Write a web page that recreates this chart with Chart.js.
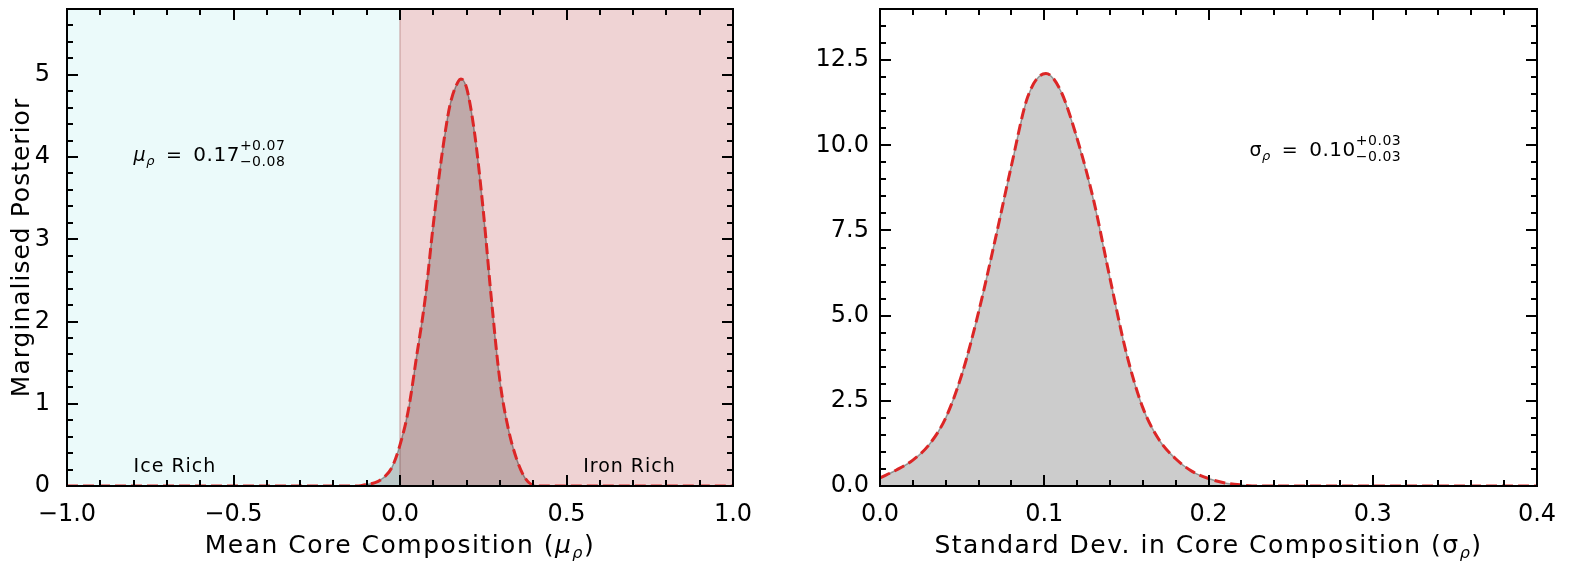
<!DOCTYPE html>
<html>
<head>
<meta charset="utf-8">
<script src="https://cdn.jsdelivr.net/npm/chart.js@4.4.0/dist/chart.umd.min.js"></script>
<style>
  html, body { margin: 0; padding: 0; background: #fff; overflow: hidden; width: 1578px; height: 564px; }
  #wrap { position: relative; width: 1578px; height: 564px; overflow: hidden; }
  .box { position: absolute; top: 0; height: 564px; }
  #boxMu { left: 0; width: 780px; }
  #boxSig { left: 780px; width: 798px; }
  canvas { display: block; }
</style>
</head>
<body>
<div id="wrap">
  <div class="box" id="boxMu"><canvas id="muChart"></canvas></div>
  <div class="box" id="boxSig"><canvas id="sigChart"></canvas></div>
</div>
<script>
// 左图：平均核心成分的边缘后验
const muX = [-1.0, -0.125, -0.1, -0.075, -0.05, -0.025, 0.0, 0.025, 0.05, 0.075, 0.1, 0.125, 0.15, 0.175, 0.183, 0.2, 0.225, 0.25, 0.275, 0.3, 0.325, 0.35, 0.375, 0.4, 0.425, 1.0];
const muY = [0, 0, 0.02, 0.04, 0.1, 0.22, 0.5, 0.92, 1.58, 2.26, 3.18, 4.0, 4.63, 4.92, 4.95, 4.84, 4.26, 3.35, 2.25, 1.28, 0.7, 0.33, 0.1, 0.01, 0, 0];

// 右图：核心成分标准差的边缘后验
const sigX = [0, 0.01, 0.02, 0.03, 0.04, 0.05, 0.06, 0.07, 0.08, 0.09, 0.101, 0.11, 0.12, 0.13, 0.14, 0.15, 0.16, 0.17, 0.18, 0.19, 0.2, 0.21, 0.22, 0.23, 0.4];
const sigY = [0.24, 0.47, 0.76, 1.22, 2.0, 3.3, 5.1, 7.2, 9.4, 11.43, 12.11, 11.6, 10.2, 8.4, 6.1, 3.9, 2.3, 1.35, 0.8, 0.43, 0.22, 0.09, 0.03, 0, 0];

// 刻度
const muTicksX = [-1, -0.5, 0, 0.5, 1];
const muTicksY = [0, 1, 2, 3, 4, 5];
const sigTicksX = [0, 0.1, 0.2, 0.3, 0.4];
const sigTicksY = [0, 2.5, 5, 7.5, 10, 12.5];

// 文字
const muTitle = 'Mean Core Composition (';
const sigTitle = 'Standard Dev. in Core Composition (';
const yTitle = 'Marginalised Posterior';
const muValue = ['0.17', '+0.07', '\u22120.08'];
const sigValue = ['0.10', '+0.03', '\u22120.03'];
const regionLabels = ['Ice Rich', 'Iron Rich'];

const FONT = '"DejaVu Sans", sans-serif';
const RED = '#dc2626';

function fontStr(size, italic) {
    return (italic ? 'italic ' : '') + size + 'px ' + FONT;
}

// 画带上下标的文字
function drawRich(ctx, parts, x, y, align) {
    let w = 0;
    parts.forEach(p => {
        if (p.sup !== undefined) {
            ctx.font = fontStr(p.size, false);
            p.w = Math.max(ctx.measureText(p.sup).width, ctx.measureText(p.sub).width);
        } else {
            ctx.font = fontStr(p.size, p.italic);
            p.w = ctx.measureText(p.t).width;
        }
        w += p.w + (p.gap || 0);
    });
    let cx = align === 'center' ? x - w / 2 : x;
    parts.forEach(p => {
        if (p.sup !== undefined) {
            ctx.font = fontStr(p.size, false);
            ctx.fillText(p.sup, cx, y + p.supDy);
            ctx.fillText(p.sub, cx, y + p.subDy);
        } else {
            ctx.font = fontStr(p.size, p.italic);
            ctx.fillText(p.t, cx, y + (p.dy || 0));
        }
        cx += p.w + (p.gap || 0);
    });
}

// 向内的刻度和边框
const frameTicks = {
    id: 'frameTicks',
    afterDraw(chart, args, opts) {
        const ctx = chart.ctx;
        const a = chart.chartArea;
        const xs = chart.scales.x, ys = chart.scales.y;
        ctx.save();
        ctx.strokeStyle = '#000';
        ctx.lineWidth = 2;
        ctx.beginPath();
        const nx = Math.round((xs.max - xs.min) / opts.xMinor);
        for (let i = 0; i <= nx; i++) {
            const v = xs.min + i * opts.xMinor;
            const major = opts.xMajor.some(m => Math.abs(m - v) < 1e-9);
            const len = major ? 11 : 6;
            const px = Math.round(xs.getPixelForValue(v));
            ctx.moveTo(px, a.bottom); ctx.lineTo(px, a.bottom - len);
            ctx.moveTo(px, a.top); ctx.lineTo(px, a.top + len);
        }
        const ny = Math.floor((ys.max - ys.min) / opts.yMinor + 1e-9);
        for (let i = 0; i <= ny; i++) {
            const v = ys.min + i * opts.yMinor;
            const major = opts.yMajor.some(m => Math.abs(m - v) < 1e-9);
            const len = major ? 11 : 6;
            const py = Math.round(ys.getPixelForValue(v));
            ctx.moveTo(a.left, py); ctx.lineTo(a.left + len, py);
            ctx.moveTo(a.right, py); ctx.lineTo(a.right - len, py);
        }
        ctx.stroke();
        ctx.strokeRect(a.left, a.top, a.right - a.left, a.bottom - a.top);
        ctx.restore();
    }
};

// 填充区域用正片叠底，背景色块
const backdrop = {
    id: 'backdrop',
    beforeDatasetsDraw(chart, args, opts) {
        const ctx = chart.ctx;
        const a = chart.chartArea;
        ctx.save();
        if (opts.split) {
            const x0 = chart.scales.x.getPixelForValue(0);
            ctx.fillStyle = '#ebfafa';
            ctx.fillRect(a.left, a.top, x0 - a.left, a.bottom - a.top);
            ctx.fillStyle = '#efd3d4';
            ctx.fillRect(x0, a.top, a.right - x0, a.bottom - a.top);
            ctx.strokeStyle = 'rgba(190,140,140,0.6)';
            ctx.lineWidth = 1.5;
            ctx.beginPath();
            ctx.moveTo(x0, a.top); ctx.lineTo(x0, a.bottom);
            ctx.stroke();
        }
        ctx.globalCompositeOperation = 'multiply';
    },
    afterDatasetDraw(chart, args) {
        if (args.index === 1) chart.ctx.restore();
    }
};

// 轴标题和注释
const labels = {
    id: 'labels',
    afterDraw(chart, args, opts) {
        const ctx = chart.ctx;
        const a = chart.chartArea;
        const xs = chart.scales.x, ys = chart.scales.y;
        ctx.save();
        ctx.fillStyle = '#000';
        ctx.textBaseline = 'alphabetic';
        ctx.letterSpacing = '1.5px';
        const cx = (a.left + a.right) / 2;
        drawRich(ctx, [
            { t: opts.title, size: 25 },
            { t: opts.sym, size: 25, italic: opts.symItalic },
            { t: '\u03c1', size: 16, italic: true, dy: 5 },
            { t: ')', size: 25 }
        ], cx, 553, 'center');

        // 数值注释
        ctx.letterSpacing = '0.5px';
        const px = xs.getPixelForValue(opts.noteAt[0]);
        const py = ys.getPixelForValue(opts.noteAt[1]);
        drawRich(ctx, [
            { t: opts.sym, size: 19, italic: opts.symItalic },
            { t: '\u03c1', size: 13, italic: true, dy: 4, gap: 11 },
            { t: '=', size: 19, gap: 11 },
            { t: opts.value[0], size: 20 },
            { sup: opts.value[1], sub: opts.value[2], size: 14, supDy: -11, subDy: 5 }
        ], px, py, 'left');

        if (opts.regions) {
            ctx.letterSpacing = '1px';
            ctx.font = fontStr(19, false);
            ctx.fillText(regionLabels[0], xs.getPixelForValue(-0.8), 472);
            ctx.fillText(regionLabels[1], xs.getPixelForValue(0.55), 472);
        }

        if (opts.yTitle) {
            ctx.letterSpacing = '1px';
            ctx.translate(22, (a.top + a.bottom) / 2);
            ctx.rotate(-Math.PI / 2);
            ctx.textAlign = 'center';
            ctx.textBaseline = 'middle';
            ctx.font = fontStr(25, false);
            ctx.fillText(yTitle, 0, 0);
        }
        ctx.restore();
    }
};

function fmtTick(v, digits) {
    const s = Math.abs(v).toFixed(digits);
    return v < 0 ? '\u2212' + s : s;
}

function makeChart(id, xData, yData, cfg) {
    const pts = xData.map((x, i) => ({ x: x, y: yData[i] }));
    return new Chart(document.getElementById(id), {
        type: 'line',
        data: {
            datasets: [
                {
                    data: pts,
                    borderColor: RED,
                    borderWidth: 3,
                    borderDash: [11, 5],
                    pointRadius: 0,
                    fill: false,
                    cubicInterpolationMode: 'monotone'
                },
                {
                    data: pts,
                    borderColor: '#a8a8a8',
                    borderWidth: 1.5,
                    backgroundColor: '#cccccc',
                    pointRadius: 0,
                    fill: 'origin',
                    cubicInterpolationMode: 'monotone'
                }
            ]
        },
        options: {
            responsive: true,
            maintainAspectRatio: false,
            animation: false,
            layout: { padding: { top: 9, right: cfg.padRight, left: 0, bottom: 0 } },
            plugins: {
                legend: { display: false },
                tooltip: { enabled: false },
                frameTicks: cfg.frame,
                backdrop: { split: cfg.split },
                labels: cfg.labels
            },
            scales: {
                x: {
                    type: 'linear',
                    min: cfg.xMin, max: cfg.xMax,
                    grid: { display: false, drawTicks: false },
                    border: { display: false },
                    afterBuildTicks: s => { s.ticks = cfg.xTicks.map(v => ({ value: v })); },
                    afterFit: s => { s.height = 78; s.paddingLeft = 0; s.paddingRight = 0; },
                    ticks: {
                        padding: 14,
                        color: '#000',
                        font: { family: FONT, size: 24 },
                        maxRotation: 0,
                        callback: v => fmtTick(v, 1)
                    }
                },
                y: {
                    type: 'linear',
                    min: 0, max: cfg.yMax,
                    grid: { display: false, drawTicks: false },
                    border: { display: false },
                    afterBuildTicks: s => { s.ticks = cfg.yTicks.map(v => ({ value: v })); },
                    afterFit: s => { s.width = cfg.yWidth; s.paddingTop = 0; s.paddingBottom = 0; },
                    ticks: {
                        padding: cfg.yPad,
                        color: '#000',
                        font: { family: FONT, size: 24 },
                        callback: v => fmtTick(v, cfg.yDigits)
                    }
                }
            }
        },
        plugins: [backdrop, frameTicks, labels]
    });
}

makeChart('muChart', muX, muY, {
    xMin: -1, xMax: 1, yMax: 5.8,
    xTicks: muTicksX, yTicks: muTicksY, yDigits: 0,
    yWidth: 67, yPad: 17, padRight: 47, split: true,
    frame: { xMinor: 0.1, yMinor: 0.2, xMajor: muTicksX, yMajor: muTicksY },
    labels: {
        title: muTitle, sym: '\u03bc', symItalic: true, yTitle: true, regions: true,
        value: muValue, noteAt: [-0.8, 3.95]
    }
});

makeChart('sigChart', sigX, sigY, {
    xMin: 0, xMax: 0.4, yMax: 14,
    xTicks: sigTicksX, yTicks: sigTicksY, yDigits: 1,
    yWidth: 100, yPad: 11, padRight: 41, split: false,
    frame: { xMinor: 0.02, yMinor: 0.5, xMajor: sigTicksX, yMajor: sigTicksY },
    labels: {
        title: sigTitle, sym: '\u03c3', symItalic: false, yTitle: false, regions: false,
        value: sigValue, noteAt: [0.225, 9.7]
    }
});
</script>
</body>
</html>
